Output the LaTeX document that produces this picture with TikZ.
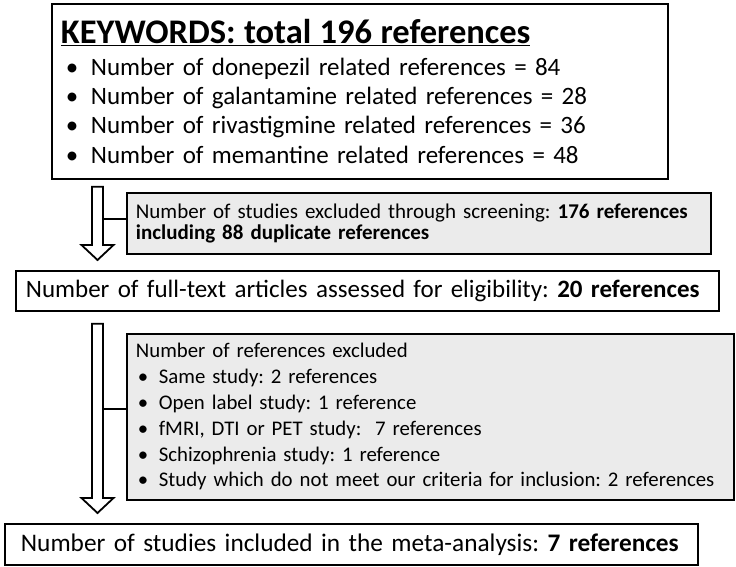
\documentclass[tikz,border=0pt]{standalone}
\usepackage{fontspec}
\setmainfont{Carlito}
\usetikzlibrary{positioning,calc}
\definecolor{pgrey}{HTML}{EBEBEB}
\tikzset{
  box/.style={draw=black,fill=white,line width=1.8pt,align=left,inner ysep=0pt,anchor=north west},
  excl/.style={box,fill=pgrey},
  barrow/.style={draw=black,fill=white,line width=1.8pt,line join=miter},
  link/.style={draw=black,line width=1.8pt},
}
\newcommand{\bul}[1]{\hspace*{#1}\makebox[25pt][l]{\textbullet}}
\newcommand{\sbul}{\hspace*{2pt}\makebox[21pt][l]{\textbullet}}
% block arrow from #1 (top of shaft) to #2 (tip)
\newcommand{\blockarrow}[2]{%
  \draw[barrow] ($(#1)+(-5.5,0)$) -- ($(#2)+(-5.5,-15)$) -- ($(#2)+(-16,-15)$) -- (#2)
    -- ($(#2)+(16,-15)$) -- ($(#2)+(5.5,-15)$) -- ($(#1)+(5.5,0)$) -- cycle;}

\begin{document}
\frenchspacing
\begin{tikzpicture}[x=1pt,y=-1pt]
  \useasboundingbox (0,0) rectangle (736,567);
  % keywords
  \node[box,inner xsep=9pt,text width=598pt,minimum width=616pt,minimum height=175pt,
        font=\fontsize{25}{29.3}\selectfont] (kw) at (51,3)
    {{\fontsize{34.5}{36}\selectfont\bfseries\underline{KEYWORDS: total 196 references}}\\[2pt]
     \bul{5pt}Number of donepezil related references = 84\\
     \bul{5pt}Number of galantamine related references = 28\\
     \bul{5pt}Number of rivastigmine related references = 36\\
     \bul{5pt}Number of memantine related references = 48};
  % screening
  \node[excl,inner xsep=9pt,text width=566pt,minimum width=584pt,minimum height=61pt,
        font=\fontsize{21}{21.5}\selectfont] (ex1) at (126,192)
    {Number of studies excluded through screening: \textbf{176 references}\\
     \textbf{including 88 duplicate references}};
  % full text
  \node[box,inner xsep=10pt,text width=683pt,minimum width=703pt,minimum height=40pt,
        font=\fontsize{25}{28}\selectfont] (full) at (15,270)
    {Number of full-text articles assessed for eligibility: \textbf{20 references}};
  % excluded
  \node[excl,inner xsep=9pt,text width=589pt,minimum width=607pt,minimum height=166pt,
        font=\fontsize{20.8}{25.8}\selectfont] (ex2) at (126,333)
    {Number of references excluded\\
     \sbul Same study: 2 references\\
     \sbul Open label study: 1 reference\\
     \sbul fMRI, DTI or PET study:\ \ 7 references\\
     \sbul Schizophrenia study: 1 reference\\
     \sbul Study which do not meet our criteria for inclusion: 2 references};
  % included
  \node[box,inner xsep=16pt,text width=661pt,minimum width=693pt,minimum height=41pt,
        font=\fontsize{25.3}{28}\selectfont] (inc) at (4,523)
    {Number of studies included in the meta-analysis: \textbf{7 references}};
  % arrows
  \coordinate (a1s) at ($(kw.south west)+(46.5,7)$);
  \coordinate (a1e) at ($(full.north west)+(82.5,-10)$);
  \coordinate (a2s) at ($(full.south west)+(82.5,12)$);
  \coordinate (a2e) at ($(inc.north west)+(93.5,-10)$);
  \blockarrow{a1s}{a1e}
  \blockarrow{a2s}{a2e}
  \coordinate (l1) at ($(a1s)+(5.5,32)$);
  \coordinate (l2) at ($(a2s)+(5.5,85)$);
  \draw[link] (l1) -- (l1 -| ex1.west);
  \draw[link] (l2) -- (l2 -| ex2.west);
\end{tikzpicture}
\end{document}
